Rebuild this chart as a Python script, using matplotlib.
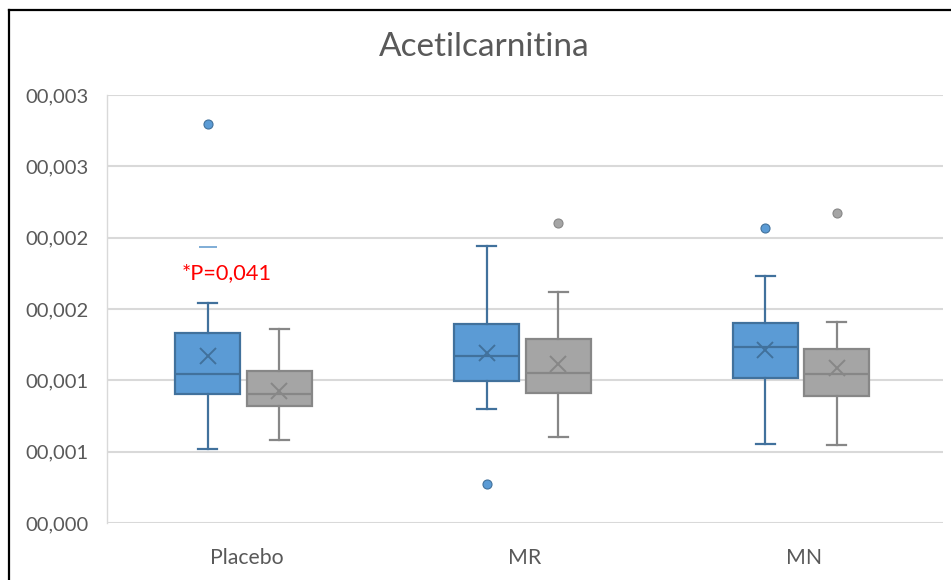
import numpy as np
import matplotlib.pyplot as plt
from matplotlib.lines import Line2D

plt.rcParams['font.family'] = ['Lato', 'DejaVu Sans']

categories = ['Placebo', 'MR', 'MN']
ytick_vals = [0.0, 0.0005, 0.001, 0.0015, 0.002, 0.0025, 0.003]
ytick_labels = ['00,000', '00,001', '00,001', '00,002', '00,002', '00,003', '00,003']

# blue series (per category): whislo, q1, med, q3, whishi, mean, outliers
blue_whislo = [0.000519, 0.000797, 0.000554]
blue_q1 = [0.000904, 0.000995, 0.001014]
blue_med = [0.001044, 0.001173, 0.001236]
blue_q3 = [0.001332, 0.001395, 0.001400]
blue_whishi = [0.001542, 0.001944, 0.001731]
blue_mean = [0.001171, 0.001194, 0.001213]
blue_out = [[0.002797], [0.000273], [0.002070]]

# gray series
gray_whislo = [0.000582, 0.000605, 0.000547]
gray_q1 = [0.000820, 0.000909, 0.000890]
gray_med = [0.000904, 0.001054, 0.001047]
gray_q3 = [0.001065, 0.001290, 0.001217]
gray_whishi = [0.001360, 0.001617, 0.001409]
gray_mean = [0.000925, 0.001112, 0.001089]
gray_out = [[], [0.002105], [0.002175]]

pval_text = '*P=0,041'
stray_dash_y = 0.001935


def make_stats(lo, q1, med, q3, hi, mean, out):
    stats = []
    for i in range(len(lo)):
        stats.append(dict(whislo=lo[i], q1=q1[i], med=med[i], q3=q3[i],
                          whishi=hi[i], mean=mean[i], fliers=np.array(out[i])))
    return stats


def draw(ax, stats, pos, fill, edge):
    ax.bxp(stats, positions=pos, widths=0.233, patch_artist=True,
           showmeans=True, capwidths=0.068,
           boxprops=dict(facecolor=fill, edgecolor=edge, linewidth=1.6),
           medianprops=dict(color=edge, linewidth=1.6),
           whiskerprops=dict(color=edge, linewidth=1.6),
           capprops=dict(color=edge, linewidth=1.6),
           meanprops=dict(marker='x', markeredgecolor=edge, markersize=12,
                          markeredgewidth=1.4),
           flierprops=dict(marker='o', markerfacecolor=fill, markeredgecolor=edge,
                           markersize=6.5, markeredgewidth=0.8))


fig = plt.figure(figsize=(9.51, 5.80), dpi=100)
ax = fig.add_axes([107 / 951, 57 / 580, (943 - 107) / 951, (523 - 95) / 580])

x = np.arange(len(categories))
draw(ax, make_stats(blue_whislo, blue_q1, blue_med, blue_q3, blue_whishi, blue_mean, blue_out),
     x - 0.138, '#5B9BD5', '#41719C')
draw(ax, make_stats(gray_whislo, gray_q1, gray_med, gray_q3, gray_whishi, gray_mean, gray_out),
     x + 0.119, '#A5A5A5', '#878787')

ax.hlines(stray_dash_y, x[0] - 0.17, x[0] - 0.105, color='#6A9FD0', linewidth=1.2)
ax.text(x[0] - 0.07, 0.001752, pval_text, color='#FF0000', fontsize=15.7,
        ha='center', va='center')

ax.set_xlim(-0.5, 2.5)
ax.set_ylim(0, 0.003)
ax.set_yticks(ytick_vals)
ax.set_yticklabels(ytick_labels)
ax.set_xticks(x)
ax.set_xticklabels(categories)
ax.grid(axis='y', color='#D9D9D9', linewidth=1.5)
ax.set_axisbelow(True)
for s in ['top', 'right', 'bottom']:
    ax.spines[s].set_visible(False)
ax.spines['left'].set_color('#D9D9D9')
ax.spines['left'].set_linewidth(1.0)
ax.tick_params(axis='y', length=0, pad=13, labelsize=14.5, labelcolor='#595959')
ax.tick_params(axis='x', length=0, pad=18, labelsize=15.3, labelcolor='#595959')

fig.text(484 / 951, 1 - 47 / 580, 'Acetilcarnitina', fontsize=24, color='#595959',
         ha='center', va='center')

# frame of the cropped chart
fig.add_artist(Line2D([9 / 951, 9 / 951], [0, 1 - 10 / 580], color='black',
                      linewidth=1.6, transform=fig.transFigure))
fig.add_artist(Line2D([9 / 951, 1], [1 - 10 / 580, 1 - 10 / 580], color='black',
                      linewidth=1.6, transform=fig.transFigure))

fig.savefig('out.png', dpi=100)
